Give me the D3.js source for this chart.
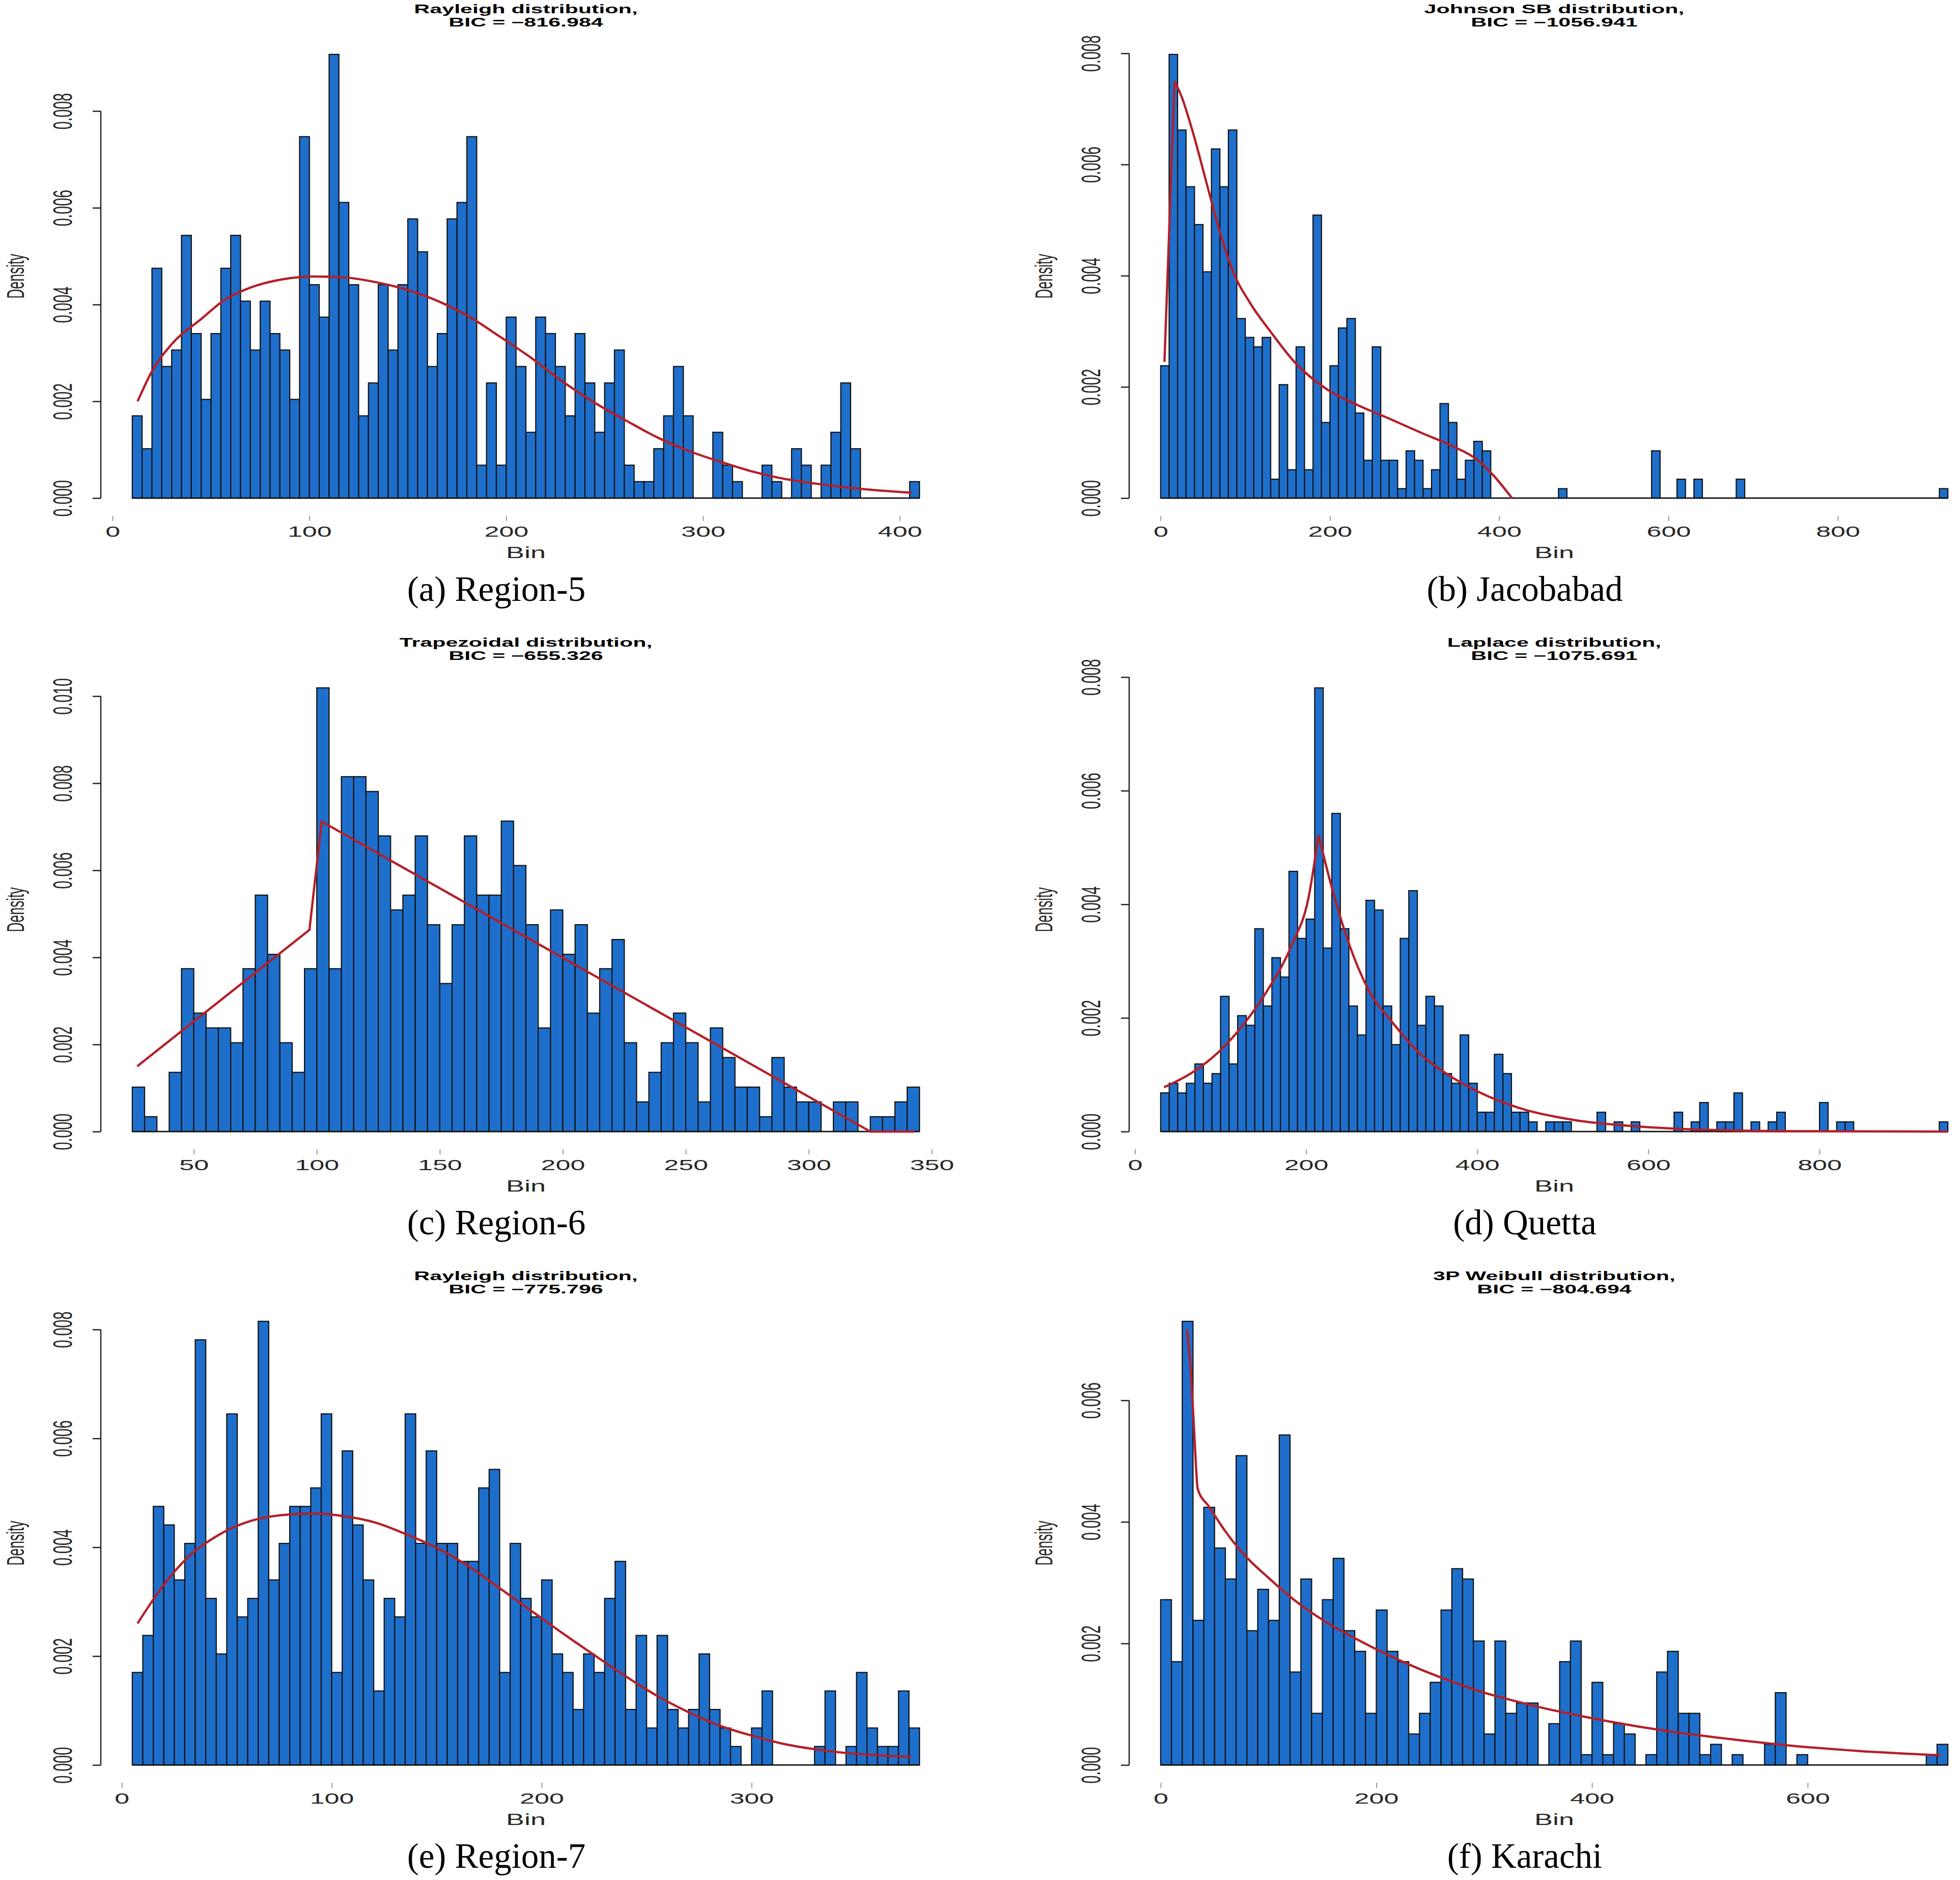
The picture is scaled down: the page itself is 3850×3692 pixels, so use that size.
<!DOCTYPE html>
<html>
<head>
<meta charset="utf-8">
<script src="https://cdn.jsdelivr.net/npm/d3@7"></script>
<style>
  body { margin: 0; background: #fff; }
  svg { display: block; }
</style>
</head>
<body>
<div id="chart"></div>
<script>
// histogram densities, one value per bin

// (a) Region-5
var region5BinStart = 10
var region5BinWidth = 5
var region5Density = [
  0.0017, 0.00102, 0.00475, 0.00272, 0.00306, 0.00543, 0.0034, 0.00204, 0.0034, 0.00475,
  0.00543, 0.00407, 0.00306, 0.00407, 0.0034, 0.00306, 0.00204, 0.00747, 0.00441, 0.00374,
  0.00917, 0.00611, 0.00441, 0.0017, 0.00238, 0.00441, 0.00306, 0.00441, 0.00577, 0.00509,
  0.00272, 0.0034, 0.00577, 0.00611, 0.00747, 0.00068, 0.00238, 0.00068, 0.00374, 0.00272,
  0.00136, 0.00374, 0.0034, 0.00272, 0.0017, 0.0034, 0.00238, 0.00136, 0.00238, 0.00306,
  0.00068, 0.00034, 0.00034, 0.00102, 0.0017, 0.00272, 0.0017, 0, 0, 0.00136,
  0.00068, 0.00034, 0, 0, 0.00068, 0.00034, 0, 0.00102, 0.00068, 0,
  0.00068, 0.00136, 0.00238, 0.00102, 0, 0, 0, 0, 0, 0.00034
]
var region5CurveX = [12.7, 20, 30, 45, 57, 70, 86, 102, 118, 134, 150, 166, 182, 197, 213, 229, 245, 261, 277, 293, 309, 325, 341, 357, 373, 389, 406]
var region5CurveY = [0.002, 0.00262, 0.00318, 0.0037, 0.0041, 0.00435, 0.00452, 0.00458, 0.00456, 0.00446, 0.0043, 0.00406, 0.00373, 0.00333, 0.00289, 0.0024, 0.00197, 0.0016, 0.00125, 0.00097, 0.00075, 0.00055, 0.0004, 0.0003, 0.00022, 0.00016, 0.00011]
var region5XTicks = [0, 100, 200, 300, 400]
var region5YTicks = [0, 0.002, 0.004, 0.006, 0.008]

// (b) Jacobabad
var jacobabadBinStart = 0
var jacobabadBinWidth = 10
var jacobabadDensity = [
  0.00238, 0.00798, 0.00662, 0.0056, 0.00492, 0.00407, 0.00628, 0.0056, 0.00662, 0.00323,
  0.00289, 0.00272, 0.00289, 0.00034, 0.00204, 0.00051, 0.00272, 0.00051, 0.00509, 0.00136,
  0.00238, 0.00306, 0.00323, 0.00153, 0.00068, 0.00272, 0.00068, 0.00068, 0.00017, 0.00085,
  0.00068, 0.00017, 0.00051, 0.0017, 0.00136, 0.00034, 0.00068, 0.00102, 0.00085, 0,
  0, 0, 0, 0, 0, 0, 0, 0.00017, 0, 0,
  0, 0, 0, 0, 0, 0, 0, 0, 0.00085, 0,
  0, 0.00034, 0, 0.00034, 0, 0, 0, 0, 0.00034, 0,
  0, 0, 0, 0, 0, 0, 0, 0, 0, 0,
  0, 0, 0, 0, 0, 0, 0, 0, 0, 0,
  0, 0, 0.00017
]
var jacobabadCurveX = [4.5, 16.4, 24.5, 39, 54, 69, 84, 106, 129, 158, 196, 233, 270, 307, 344, 374, 393, 415]
var jacobabadCurveY = [0.00245, 0.0075, 0.00723, 0.00653, 0.00568, 0.00484, 0.00413, 0.0035, 0.00301, 0.00245, 0.00196, 0.00167, 0.00143, 0.00118, 0.00094, 0.00069, 0.00041, 0]
var jacobabadXTicks = [0, 200, 400, 600, 800]
var jacobabadYTicks = [0, 0.002, 0.004, 0.006, 0.008]

// (c) Region-6
var region6BinStart = 25
var region6BinWidth = 5
var region6Density = [
  0.00102, 0.00034, 0, 0.00136, 0.00374, 0.00272, 0.00238, 0.00238, 0.00204, 0.00374,
  0.00543, 0.00407, 0.00204, 0.00136, 0.00374, 0.01019, 0.00374, 0.00815, 0.00815, 0.00781,
  0.00679, 0.00509, 0.00543, 0.00679, 0.00475, 0.0034, 0.00475, 0.00679, 0.00543, 0.00543,
  0.00713, 0.00611, 0.00475, 0.00238, 0.00509, 0.00407, 0.00475, 0.00272, 0.00374, 0.00441,
  0.00204, 0.00068, 0.00136, 0.00204, 0.00272, 0.00204, 0.00068, 0.00238, 0.0017, 0.00102,
  0.00102, 0.00034, 0.0017, 0.00102, 0.00068, 0.00068, 0, 0.00068, 0.00068, 0,
  0.00034, 0.00034, 0.00068, 0.00102
]
var region6CurveX = [27, 97, 102, 325, 343]
var region6CurveY = [0.0015, 0.00463, 0.00712, 0, 0]
var region6XTicks = [50, 100, 150, 200, 250, 300, 350]
var region6YTicks = [0, 0.002, 0.004, 0.006, 0.008, 0.010]

// (d) Quetta
var quettaBinStart = 30
var quettaBinWidth = 10
var quettaDensity = [
  0.00068, 0.00085, 0.00068, 0.00085, 0.00119, 0.00085, 0.00102, 0.00238, 0.00119, 0.00204,
  0.00187, 0.00357, 0.00221, 0.00306, 0.00272, 0.00458, 0.0034, 0.00374, 0.00781, 0.00323,
  0.0056, 0.00357, 0.00221, 0.0017, 0.00407, 0.0039, 0.00221, 0.00153, 0.0034, 0.00424,
  0.00187, 0.00238, 0.00221, 0.00102, 0.00085, 0.0017, 0.00085, 0.00034, 0.00034, 0.00136,
  0.00102, 0.00034, 0.00034, 0.00017, 0, 0.00017, 0.00017, 0.00017, 0, 0,
  0, 0.00034, 0, 0.00017, 0, 0.00017, 0, 0, 0, 0,
  0.00034, 0, 0.00017, 0.00051, 0, 0.00017, 0.00017, 0.00068, 0, 0.00017,
  0, 0.00017, 0.00034, 0, 0, 0, 0, 0.00051, 0, 0.00017,
  0.00017, 0, 0, 0, 0, 0, 0, 0, 0, 0,
  0, 0.00017
]
var quettaCurveX = [34, 67, 97, 126, 155, 184, 203, 214.5, 228, 250, 272, 302, 331, 368, 404, 448, 514, 587, 697, 800, 950]
var quettaCurveY = [0.00078, 0.00104, 0.00139, 0.00187, 0.00249, 0.00331, 0.00413, 0.00522, 0.00441, 0.00331, 0.00252, 0.0019, 0.0014, 0.00098, 0.00068, 0.00042, 0.0002, 0.00009, 0.00002, 0.000005, 0]
var quettaXTicks = [0, 200, 400, 600, 800]
var quettaYTicks = [0, 0.002, 0.004, 0.006, 0.008]

// (e) Region-7
var region7BinStart = 5
var region7BinWidth = 5
var region7Density = [
  0.0017, 0.00238, 0.00475, 0.00441, 0.0034, 0.00407, 0.00781, 0.00306, 0.00204, 0.00645,
  0.00272, 0.00306, 0.00815, 0.0034, 0.00407, 0.00475, 0.00475, 0.00509, 0.00645, 0.0017,
  0.00577, 0.00441, 0.0034, 0.00136, 0.00306, 0.00272, 0.00645, 0.00407, 0.00577, 0.00407,
  0.00407, 0.00374, 0.00374, 0.00509, 0.00543, 0.0017, 0.00407, 0.00306, 0.00272, 0.0034,
  0.00204, 0.0017, 0.00102, 0.00204, 0.0017, 0.00306, 0.00374, 0.00102, 0.00238, 0.00068,
  0.00238, 0.00102, 0.00068, 0.00102, 0.00204, 0.00102, 0.00068, 0.00034, 0, 0.00068,
  0.00136, 0, 0, 0, 0, 0.00034, 0.00136, 0, 0.00034, 0.0017,
  0.00068, 0.00034, 0.00034, 0.00136, 0.00068
]
var region7CurveX = [7.5, 19.4, 31.3, 46.3, 61.2, 76, 91, 106, 121, 136, 151, 166, 181, 195.5, 210, 225, 240, 255, 270, 285, 300, 315, 330, 345, 360, 376]
var region7CurveY = [0.0026, 0.00328, 0.00381, 0.00423, 0.00448, 0.00459, 0.00462, 0.00457, 0.00445, 0.00423, 0.00397, 0.00363, 0.00322, 0.00282, 0.00242, 0.00202, 0.00163, 0.00127, 0.00097, 0.00072, 0.00054, 0.00039, 0.00029, 0.00022, 0.00018, 0.00015]
var region7XTicks = [0, 100, 200, 300]
var region7YTicks = [0, 0.002, 0.004, 0.006, 0.008]

// (f) Karachi
var karachiBinStart = 0
var karachiBinWidth = 10
var karachiDensity = [
  0.00272, 0.0017, 0.0073, 0.00238, 0.00424, 0.00357, 0.00306, 0.00509, 0.00221, 0.00289,
  0.00238, 0.00543, 0.00153, 0.00306, 0.00085, 0.00272, 0.0034, 0.00221, 0.00187, 0.00085,
  0.00255, 0.00187, 0.0017, 0.00051, 0.00085, 0.00136, 0.00255, 0.00323, 0.00306, 0.00204,
  0.00051, 0.00204, 0.00085, 0.00102, 0.00102, 0, 0.00068, 0.0017, 0.00204, 0.00017,
  0.00136, 0.00017, 0.00068, 0.00051, 0, 0.00017, 0.00153, 0.00187, 0.00085, 0.00085,
  0.00017, 0.00034, 0, 0.00017, 0, 0, 0.00034, 0.00119, 0, 0.00017,
  0, 0, 0, 0, 0, 0, 0, 0, 0, 0,
  0, 0.00017, 0.00034
]
var karachiCurveX = [24.5, 28.5, 31.5, 34.4, 44.9, 59.4, 76.9, 100, 123.5, 152.6, 181.7, 210.9, 240, 269, 298, 327, 356.5, 385.6, 414.8, 473, 531, 589.5, 647.8, 723.5]
var karachiCurveY = [0.00717, 0.00633, 0.00535, 0.00454, 0.00425, 0.00386, 0.00347, 0.00308, 0.00272, 0.00236, 0.00207, 0.00181, 0.00158, 0.00138, 0.0012, 0.00106, 0.00093, 0.00082, 0.00072, 0.00055, 0.00042, 0.00031, 0.00023, 0.00016]
var karachiXTicks = [0, 200, 400, 600]
var karachiYTicks = [0, 0.002, 0.004, 0.006]

var panels = [
  {title: 'Rayleigh distribution,', bic: 'BIC = \u2212816.984', caption: '(a) Region-5', col: 0, row: 0,
    start: region5BinStart, width: region5BinWidth, density: region5Density,
    curveX: region5CurveX, curveY: region5CurveY, xTicks: region5XTicks, yTicks: region5YTicks, shape: 'smooth'},
  {title: 'Johnson SB distribution,', bic: 'BIC = \u22121056.941', caption: '(b) Jacobabad', col: 1, row: 0,
    start: jacobabadBinStart, width: jacobabadBinWidth, density: jacobabadDensity,
    curveX: jacobabadCurveX, curveY: jacobabadCurveY, xTicks: jacobabadXTicks, yTicks: jacobabadYTicks, shape: 'peak'},
  {title: 'Trapezoidal distribution,', bic: 'BIC = \u2212655.326', caption: '(c) Region-6', col: 0, row: 1,
    start: region6BinStart, width: region6BinWidth, density: region6Density,
    curveX: region6CurveX, curveY: region6CurveY, xTicks: region6XTicks, yTicks: region6YTicks, shape: 'linear'},
  {title: 'Laplace distribution,', bic: 'BIC = \u22121075.691', caption: '(d) Quetta', col: 1, row: 1,
    start: quettaBinStart, width: quettaBinWidth, density: quettaDensity,
    curveX: quettaCurveX, curveY: quettaCurveY, xTicks: quettaXTicks, yTicks: quettaYTicks, shape: 'peak'},
  {title: 'Rayleigh distribution,', bic: 'BIC = \u2212775.796', caption: '(e) Region-7', col: 0, row: 2,
    start: region7BinStart, width: region7BinWidth, density: region7Density,
    curveX: region7CurveX, curveY: region7CurveY, xTicks: region7XTicks, yTicks: region7YTicks, shape: 'smooth'},
  {title: '3P Weibull distribution,', bic: 'BIC = \u2212804.694', caption: '(f) Karachi', col: 1, row: 2,
    start: karachiBinStart, width: karachiBinWidth, density: karachiDensity,
    curveX: karachiCurveX, curveY: karachiCurveY, xTicks: karachiXTicks, yTicks: karachiYTicks, shape: 'smooth'}
]

// page layout (pixels)
var plotLeft = [198, 2218]
var plotTop = [72, 1316, 2560]
var plotW = 1670
var plotH = 941
var captionX = [975, 2995]
var barFill = '#1e6fcb'
var curveColor = '#b3202a'

var svg = d3.select('#chart').append('svg')
  .attr('width', 3850)
  .attr('height', 3692)
  .attr('font-family', "'Liberation Sans', Arial, sans-serif")

panels.forEach(function (p) {
  var L = plotLeft[p.col]
  var T = plotTop[p.row]
  var lo = p.start
  var hi = p.start + p.density.length * p.width
  var pad = 0.04 * (hi - lo)
  var top = d3.max(p.density)

  // R style axis ranges: 4% extension on each side
  var x = d3.scaleLinear().domain([lo - pad, hi + pad]).range([L, L + plotW])
  var y = d3.scaleLinear().domain([-0.04 * top, 1.04 * top]).range([T + plotH, T])

  var g = svg.append('g')

  var bins = p.density.map(function (d, i) {
    return {x0: lo + i * p.width, x1: lo + (i + 1) * p.width, d: d}
  })

  g.append('g')
    .selectAll('rect')
    .data(bins.filter(function (b) { return b.d > 0 }))
    .enter()
    .append('rect')
    .attr('x', function (b) { return x(b.x0) })
    .attr('width', function (b) { return x(b.x1) - x(b.x0) })
    .attr('y', function (b) { return y(b.d) })
    .attr('height', function (b) { return y(0) - y(b.d) })
    .attr('fill', barFill)
    .attr('stroke', '#111')
    .attr('stroke-width', 2.2)

  // empty bins still leave their bottom edge
  g.append('line')
    .attr('x1', x(lo))
    .attr('x2', x(hi))
    .attr('y1', y(0))
    .attr('y2', y(0))
    .attr('stroke', '#111')
    .attr('stroke-width', 2.6)

  // fitted density
  var pts = p.curveX.map(function (v, i) { return [v, p.curveY[i]] })
  var line = d3.line()
    .x(function (d) { return x(d[0]) })
    .y(function (d) { return y(d[1]) })
    .curve(p.shape === 'linear' ? d3.curveLinear : d3.curveMonotoneX)
  var parts = [pts]
  if (p.shape === 'peak') {
    var k = d3.maxIndex(pts, function (d) { return d[1] })
    parts = [pts.slice(0, k + 1), pts.slice(k)]
  }
  parts.forEach(function (part) {
    g.append('path')
      .attr('d', line(part))
      .attr('fill', 'none')
      .attr('stroke', curveColor)
      .attr('stroke-width', 4.5)
      .attr('stroke-linejoin', 'round')
  })

  // y axis
  var yAxis = g.append('g')
    .attr('transform', 'translate(' + L + ',0)')
    .call(d3.axisLeft(y).tickValues(p.yTicks).tickSize(16).tickFormat(d3.format('.3f')))
  yAxis.attr('font-family', null).attr('font-size', null)
  yAxis.select('.domain').remove()
  yAxis.selectAll('.tick line').attr('stroke', '#222').attr('stroke-width', 2.5)
  yAxis.selectAll('.tick text')
    .attr('x', 0)
    .attr('dy', null)
    .attr('font-size', 52)
    .attr('fill', '#262626')
    .attr('text-anchor', 'middle')
    .attr('transform', 'translate(-57,0) rotate(-90) scale(0.55,1)')
  yAxis.append('line')
    .attr('y1', y(0))
    .attr('y2', y(d3.max(p.yTicks)))
    .attr('stroke', '#222')
    .attr('stroke-width', 2.5)

  // x axis: only faint ticks survive in the figure
  var xAxis = g.append('g')
    .attr('transform', 'translate(0,' + (T + plotH) + ')')
    .call(d3.axisBottom(x).tickValues(p.xTicks).tickSize(10).tickFormat(d3.format('d')))
  xAxis.attr('font-family', null).attr('font-size', null)
  xAxis.select('.domain').remove()
  xAxis.selectAll('.tick line').attr('stroke', '#9a9a9a').attr('stroke-width', 2)
  xAxis.selectAll('.tick text')
    .attr('y', 0)
    .attr('dy', null)
    .attr('font-size', 52)
    .attr('fill', '#262626')
    .attr('transform', 'translate(0,41) scale(1,0.58)')

  g.append('text')
    .attr('transform', 'translate(' + (L + plotW / 2) + ',' + (T + plotH + 83) + ') scale(1,0.58)')
    .attr('text-anchor', 'middle')
    .attr('font-size', 54)
    .attr('fill', '#262626')
    .text('Bin')

  g.append('text')
    .attr('transform', 'translate(' + (L - 151) + ',' + (T + plotH / 2) + ') rotate(-90) scale(0.55,1)')
    .attr('text-anchor', 'middle')
    .attr('font-size', 48)
    .attr('fill', '#262626')
    .text('Density')

  // two line title
  g.append('text')
    .attr('transform', 'translate(' + (L + plotW / 2) + ',' + (T - 46) + ') scale(1,0.55)')
    .attr('text-anchor', 'middle')
    .attr('font-size', 43)
    .attr('font-weight', 'bold')
    .text(p.title)
  g.append('text')
    .attr('transform', 'translate(' + (L + plotW / 2) + ',' + (T - 20) + ') scale(1,0.55)')
    .attr('text-anchor', 'middle')
    .attr('font-size', 43)
    .attr('font-weight', 'bold')
    .text(p.bic)

  g.append('text')
    .attr('x', captionX[p.col])
    .attr('y', T + 1108)
    .attr('text-anchor', 'middle')
    .attr('font-family', "'Liberation Serif', 'Times New Roman', serif")
    .attr('font-size', 69)
    .attr('fill', '#000')
    .text(p.caption)
})
</script>
</body>
</html>
